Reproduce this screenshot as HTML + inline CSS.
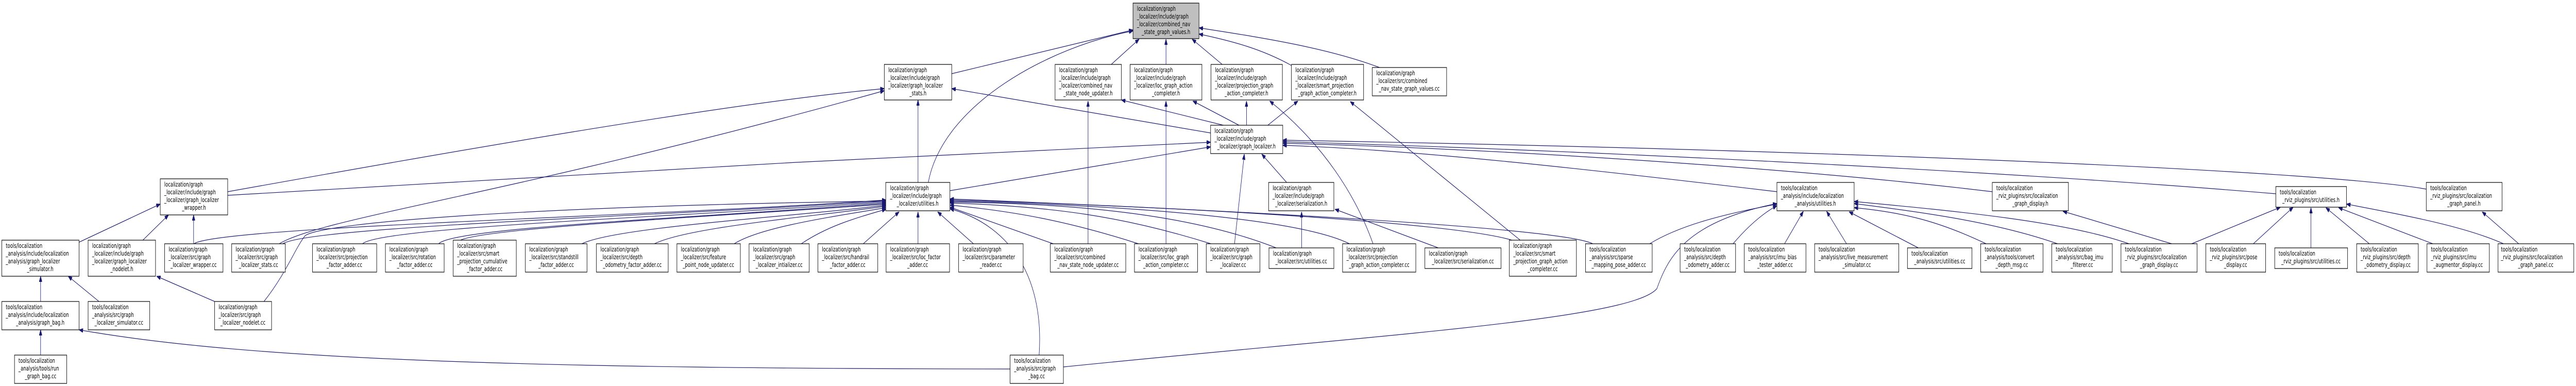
<!DOCTYPE html>
<html><head><meta charset="utf-8">
<style>
html,body{margin:0;padding:0;background:#fff;width:100%;height:100%;overflow:hidden;}
svg{display:block;width:100vw;height:100vh;}
text{font-family:"DejaVu Sans","Liberation Sans",sans-serif;font-size:12px;fill:#000;}
.n{fill:#fff;stroke:#000;stroke-width:1.2;}
.r{fill:#bfbfbf;stroke:#000;stroke-width:1.2;}
.e{fill:none;stroke:#191970;stroke-width:1.2;}
.c{text-anchor:middle;}
</style></head>
<body>
<svg viewBox="0 0 7105 749" preserveAspectRatio="none" xmlns="http://www.w3.org/2000/svg" overflow="hidden">
<defs>
<marker id="a" markerUnits="userSpaceOnUse" markerWidth="11" markerHeight="8" refX="11" refY="4" orient="auto">
<path d="M0,0 L11,4 L0,8 z" fill="#191970" stroke="#191970"/>
</marker>
</defs>

<g class="e" marker-end="url(#a)">
<path d="M2625,143 L3125,58"/>
<path d="M2560,355 C2600,200 2900,90 3125,60"/>
<path d="M3065,125 L3142,76"/>
<path d="M3216,125 L3216,76"/>
<path d="M3371,125 L3288,76"/>
<path d="M3562,127 C3480,95 3400,80 3307,66"/>
<path d="M3805,131 C3650,90 3450,70 3307,54"/>
<path d="M628,372 C1200,300 2000,200 2439,172"/>
<path d="M770,473 C900,420 1400,380 2439,176"/>
<path d="M3339,258 L2625,172"/>
<path d="M2532,355 L2532,194"/>
<path d="M628,379 C1300,350 2500,300 3339,276"/>
<path d="M2620,370 L3339,285"/>
<path d="M3550,355 L3480,299"/>
<path d="M3405,473 L3432,299"/>
<path d="M4901,372 C4400,330 3900,290 3538,282"/>
<path d="M5495,372 C5000,330 4200,290 3538,278"/>
<path d="M6277,376 C5500,330 4300,290 3538,275"/>
<path d="M6692,367 C6400,330 5000,290 3538,272"/>
<path d="M3380,244 L3093,194"/>
<path d="M3420,244 L3290,196"/>
<path d="M3438,244 L3438,196"/>
<path d="M3495,244 L3580,196"/>
<path d="M3001,473 L3001,196"/>
<path d="M3216,473 L3216,196"/>
<path d="M3787,473 C3740,380 3650,280 3502,196"/>
<path d="M4193,466 L3724,197"/>
<path d="M3967,481 L3682,406"/>
<path d="M3590,481 L3590,411"/>
<path d="M535,473 C600,440 1800,420 2444,388"/>
<path d="M780,473 C850,440 1800,420 2444,390"/>
<path d="M1000,473 C1050,440 1900,420 2444,392"/>
<path d="M1210,473 C1250,440 2000,420 2444,394"/>
<path d="M1270,466 C1350,440 2100,415 2444,396"/>
<path d="M1605,473 C1700,440 2200,420 2444,398"/>
<path d="M1805,473 C1900,440 2250,420 2444,400"/>
<path d="M2025,473 C2100,440 2300,420 2444,403"/>
<path d="M2210,473 C2280,440 2350,425 2444,406"/>
<path d="M2381,473 L2480,411"/>
<path d="M728,585 C790,530 815,480 842,457 C900,430 1500,400 2444,390"/>
<path d="M2532,473 L2532,411"/>
<path d="M2685,473 L2586,411"/>
<path d="M2905,473 L2620,402"/>
<path d="M3140,473 C2950,430 2800,410 2620,398"/>
<path d="M3340,473 C3100,420 2900,400 2620,394"/>
<path d="M3520,481 C3300,420 3000,395 2620,392"/>
<path d="M3722,473 C3600,430 3200,400 2620,390"/>
<path d="M4170,466 C4000,430 3200,400 2620,388"/>
<path d="M4393,473 C4300,440 3300,405 2620,386"/>
<path d="M2866,689 C2880,550 2800,440 2620,405"/>
<path d="M4550,473 C4650,430 4800,410 4901,396"/>
<path d="M4780,473 C4820,440 4860,415 4901,399"/>
<path d="M2933,712 C3800,650 4500,620 4570,560 C4600,500 4650,430 4901,395"/>
<path d="M4922,473 L4974,410"/>
<path d="M5093,473 L5038,410"/>
<path d="M5291,481 L5100,411"/>
<path d="M5478,473 C5350,430 5250,412 5114,403"/>
<path d="M5675,473 C5500,430 5300,412 5114,395"/>
<path d="M5872,473 C5700,430 5400,410 5114,391"/>
<path d="M5990,473 L5690,410"/>
<path d="M6045,473 L6290,402"/>
<path d="M6215,473 L6325,402"/>
<path d="M6374,481 L6374,403"/>
<path d="M6535,473 L6415,403"/>
<path d="M6710,473 L6450,403"/>
<path d="M6905,473 C6800,440 6650,420 6472,396"/>
<path d="M6947,473 L6846,411"/>
<path d="M218,470 L442,396"/>
<path d="M394,466 L465,417"/>
<path d="M534,473 L534,417"/>
<path d="M592,585 L432,536"/>
<path d="M112,585 L112,536"/>
<path d="M273,585 L188,536"/>
<path d="M112,689 L112,640"/>
<path d="M2786,716 C1500,715 700,700 218,640"/>
</g>

<rect class="r" x="3125" y="6" width="182" height="69"/>
<text x="3136" y="21">localization/graph</text><text x="3136" y="36">_localizer/include/graph</text><text x="3136" y="51">_localizer/combined_nav</text><text class="c" x="3216" y="66">_state_graph_values.h</text>

<rect class="n" x="2439" y="125" width="186" height="69"/>
<text x="2450" y="140">localization/graph</text><text x="2450" y="155">_localizer/include/graph</text><text x="2450" y="170">_localizer/graph_localizer</text><text class="c" x="2532" y="185">_stats.h</text>

<rect class="n" x="2910" y="125" width="183" height="69"/>
<text x="2921" y="140">localization/graph</text><text x="2921" y="155">_localizer/include/graph</text><text x="2921" y="170">_localizer/combined_nav</text><text class="c" x="3001" y="185">_state_node_updater.h</text>

<rect class="n" x="3117" y="125" width="198" height="69"/>
<text x="3128" y="140">localization/graph</text><text x="3128" y="155">_localizer/include/graph</text><text x="3128" y="170">_localizer/loc_graph_action</text><text class="c" x="3216" y="185">_completer.h</text>

<rect class="n" x="3340" y="125" width="197" height="69"/>
<text x="3351" y="140">localization/graph</text><text x="3351" y="155">_localizer/include/graph</text><text x="3351" y="170">_localizer/projection_graph</text><text class="c" x="3438" y="185">_action_completer.h</text>

<rect class="n" x="3562" y="125" width="199" height="69"/>
<text x="3573" y="140">localization/graph</text><text x="3573" y="155">_localizer/include/graph</text><text x="3573" y="170">_localizer/smart_projection</text><text class="c" x="3661" y="185">_graph_action_completer.h</text>

<rect class="n" x="3785" y="131" width="205" height="55"/>
<text x="3796" y="146">localization/graph</text><text x="3796" y="161">_localizer/src/combined</text><text class="c" x="3887" y="176">_nav_state_graph_values.cc</text>

<rect class="n" x="3339" y="243" width="199" height="55"/>
<text x="3350" y="258">localization/graph</text><text x="3350" y="273">_localizer/include/graph</text><text class="c" x="3438" y="288">_localizer/graph_localizer.h</text>

<rect class="n" x="442" y="347" width="186" height="70"/>
<text x="453" y="362">localization/graph</text><text x="453" y="377">_localizer/include/graph</text><text x="453" y="392">_localizer/graph_localizer</text><text class="c" x="535" y="407">_wrapper.h</text>

<rect class="n" x="2443" y="354" width="177" height="55"/>
<text x="2455" y="369">localization/graph</text><text x="2455" y="384">_localizer/include/graph</text><text class="c" x="2531" y="399">_localizer/utilities.h</text>

<rect class="n" x="3499" y="354" width="180" height="55"/>
<text x="3510" y="369">localization/graph</text><text x="3510" y="384">_localizer/include/graph</text><text class="c" x="3589" y="399">_localizer/serialization.h</text>

<rect class="n" x="4901" y="354" width="213" height="55"/>
<text x="4912" y="369">tools/localization</text><text x="4912" y="384">_analysis/include/localization</text><text class="c" x="5007" y="399">_analysis/utilities.h</text>

<rect class="n" x="5495" y="354" width="210" height="55"/>
<text x="5506" y="369">tools/localization</text><text x="5506" y="384">_rviz_plugins/src/localization</text><text class="c" x="5600" y="399">_graph_display.h</text>

<rect class="n" x="6277" y="362" width="195" height="40"/>
<text x="6288" y="377">tools/localization</text><text class="c" x="6374" y="392">_rviz_plugins/src/utilities.h</text>

<rect class="n" x="6692" y="354" width="209" height="55"/>
<text x="6703" y="369">tools/localization</text><text x="6703" y="384">_rviz_plugins/src/localization</text><text class="c" x="6796" y="399">_graph_panel.h</text>

<rect class="n" x="5" y="466" width="213" height="70"/>
<text x="16" y="481">tools/localization</text><text x="16" y="496">_analysis/include/localization</text><text x="16" y="511">_analysis/graph_localizer</text><text class="c" x="111" y="526">_simulator.h</text>

<rect class="n" x="243" y="466" width="186" height="70"/>
<text x="254" y="481">localization/graph</text><text x="254" y="496">_localizer/include/graph</text><text x="254" y="511">_localizer/graph_localizer</text><text class="c" x="336" y="526">_nodelet.h</text>

<rect class="n" x="454" y="473" width="161" height="55"/>
<text x="465" y="488">localization/graph</text><text x="465" y="503">_localizer/src/graph</text><text class="c" x="534" y="518">_localizer_wrapper.cc</text>

<rect class="n" x="639" y="473" width="148" height="55"/>
<text x="650" y="488">localization/graph</text><text x="650" y="503">_localizer/src/graph</text><text class="c" x="713" y="518">_localizer_stats.cc</text>

<rect class="n" x="862" y="473" width="177" height="55"/>
<text x="873" y="488">localization/graph</text><text x="873" y="503">_localizer/src/projection</text><text class="c" x="950" y="518">_factor_adder.cc</text>

<rect class="n" x="1063" y="473" width="162" height="55"/>
<text x="1074" y="488">localization/graph</text><text x="1074" y="503">_localizer/src/rotation</text><text class="c" x="1144" y="518">_factor_adder.cc</text>

<rect class="n" x="1250" y="466" width="174" height="70"/>
<text x="1261" y="481">localization/graph</text><text x="1261" y="496">_localizer/src/smart</text><text x="1261" y="511">_projection_cumulative</text><text class="c" x="1337" y="526">_factor_adder.cc</text>

<rect class="n" x="1449" y="473" width="170" height="55"/>
<text x="1460" y="488">localization/graph</text><text x="1460" y="503">_localizer/src/standstill</text><text class="c" x="1534" y="518">_factor_adder.cc</text>

<rect class="n" x="1645" y="473" width="198" height="55"/>
<text x="1656" y="488">localization/graph</text><text x="1656" y="503">_localizer/src/depth</text><text class="c" x="1744" y="518">_odometry_factor_adder.cc</text>

<rect class="n" x="1867" y="473" width="175" height="55"/>
<text x="1878" y="488">localization/graph</text><text x="1878" y="503">_localizer/src/feature</text><text class="c" x="1954" y="518">_point_node_updater.cc</text>

<rect class="n" x="2066" y="473" width="166" height="55"/>
<text x="2077" y="488">localization/graph</text><text x="2077" y="503">_localizer/src/graph</text><text class="c" x="2149" y="518">_localizer_intializer.cc</text>

<rect class="n" x="2256" y="473" width="165" height="55"/>
<text x="2267" y="488">localization/graph</text><text x="2267" y="503">_localizer/src/handrail</text><text class="c" x="2338" y="518">_factor_adder.cc</text>

<rect class="n" x="2444" y="473" width="175" height="55"/>
<text x="2455" y="488">localization/graph</text><text x="2455" y="503">_localizer/src/loc_factor</text><text class="c" x="2531" y="518">_adder.cc</text>

<rect class="n" x="2644" y="473" width="178" height="55"/>
<text x="2655" y="488">localization/graph</text><text x="2655" y="503">_localizer/src/parameter</text><text class="c" x="2733" y="518">_reader.cc</text>

<rect class="n" x="2897" y="473" width="208" height="55"/>
<text x="2908" y="488">localization/graph</text><text x="2908" y="503">_localizer/src/combined</text><text class="c" x="3001" y="518">_nav_state_node_updater.cc</text>

<rect class="n" x="3129" y="473" width="174" height="55"/>
<text x="3140" y="488">localization/graph</text><text x="3140" y="503">_localizer/src/loc_graph</text><text class="c" x="3216" y="518">_action_completer.cc</text>

<rect class="n" x="3327" y="473" width="148" height="55"/>
<text x="3338" y="488">localization/graph</text><text x="3338" y="503">_localizer/src/graph</text><text class="c" x="3401" y="518">_localizer.cc</text>

<rect class="n" x="3500" y="481" width="179" height="40"/>
<text x="3511" y="496">localization/graph</text><text class="c" x="3589" y="511">_localizer/src/utilities.cc</text>

<rect class="n" x="3703" y="473" width="202" height="55"/>
<text x="3714" y="488">localization/graph</text><text x="3714" y="503">_localizer/src/projection</text><text class="c" x="3804" y="518">_graph_action_completer.cc</text>

<rect class="n" x="3930" y="481" width="210" height="40"/>
<text x="3941" y="496">localization/graph</text><text class="c" x="4035" y="511">_localizer/src/serialization.cc</text>

<rect class="n" x="4163" y="466" width="185" height="70"/>
<text x="4174" y="481">localization/graph</text><text x="4174" y="496">_localizer/src/smart</text><text x="4174" y="511">_projection_graph_action</text><text class="c" x="4255" y="526">_completer.cc</text>

<rect class="n" x="4373" y="473" width="184" height="55"/>
<text x="4384" y="488">tools/localization</text><text x="4384" y="503">_analysis/src/sparse</text><text class="c" x="4465" y="518">_mapping_pose_adder.cc</text>

<rect class="n" x="4634" y="473" width="153" height="55"/>
<text x="4645" y="488">tools/localization</text><text x="4645" y="503">_analysis/src/depth</text><text class="c" x="4710" y="518">_odometry_adder.cc</text>

<rect class="n" x="4811" y="473" width="170" height="55"/>
<text x="4822" y="488">tools/localization</text><text x="4822" y="503">_analysis/src/imu_bias</text><text class="c" x="4896" y="518">_tester_adder.cc</text>

<rect class="n" x="5005" y="473" width="232" height="55"/>
<text x="5016" y="488">tools/localization</text><text x="5016" y="503">_analysis/src/live_measurement</text><text class="c" x="5121" y="518">_simulator.cc</text>

<rect class="n" x="5261" y="481" width="178" height="40"/>
<text x="5272" y="496">tools/localization</text><text class="c" x="5350" y="511">_analysis/src/utilities.cc</text>

<rect class="n" x="5463" y="473" width="172" height="55"/>
<text x="5474" y="488">tools/localization</text><text x="5474" y="503">_analysis/tools/convert</text><text class="c" x="5549" y="518">_depth_msg.cc</text>

<rect class="n" x="5659" y="473" width="167" height="55"/>
<text x="5670" y="488">tools/localization</text><text x="5670" y="503">_analysis/src/bag_imu</text><text class="c" x="5742" y="518">_filterer.cc</text>

<rect class="n" x="5850" y="473" width="210" height="55"/>
<text x="5861" y="488">tools/localization</text><text x="5861" y="503">_rviz_plugins/src/localization</text><text class="c" x="5955" y="518">_graph_display.cc</text>

<rect class="n" x="6084" y="473" width="165" height="55"/>
<text x="6095" y="488">tools/localization</text><text x="6095" y="503">_rviz_plugins/src/pose</text><text class="c" x="6166" y="518">_display.cc</text>

<rect class="n" x="6274" y="481" width="201" height="40"/>
<text x="6285" y="496">tools/localization</text><text class="c" x="6374" y="511">_rviz_plugins/src/utilities.cc</text>

<rect class="n" x="6500" y="473" width="170" height="55"/>
<text x="6511" y="488">tools/localization</text><text x="6511" y="503">_rviz_plugins/src/depth</text><text class="c" x="6585" y="518">_odometry_display.cc</text>

<rect class="n" x="6694" y="473" width="172" height="55"/>
<text x="6705" y="488">tools/localization</text><text x="6705" y="503">_rviz_plugins/src/imu</text><text class="c" x="6780" y="518">_augmentor_display.cc</text>

<rect class="n" x="6890" y="473" width="209" height="55"/>
<text x="6898" y="488">tools/localization</text><text x="6898" y="503">_rviz_plugins/src/localization</text><text class="c" x="6994" y="518">_graph_panel.cc</text>

<rect class="n" x="5" y="585" width="213" height="55"/>
<text x="16" y="600">tools/localization</text><text x="16" y="615">_analysis/include/localization</text><text class="c" x="111" y="630">_analysis/graph_bag.h</text>

<rect class="n" x="243" y="585" width="170" height="55"/>
<text x="254" y="600">tools/localization</text><text x="254" y="615">_analysis/src/graph</text><text class="c" x="328" y="630">_localizer_simulator.cc</text>

<rect class="n" x="592" y="585" width="157" height="55"/>
<text x="603" y="600">localization/graph</text><text x="603" y="615">_localizer/src/graph</text><text class="c" x="670" y="630">_localizer_nodelet.cc</text>

<rect class="n" x="40" y="689" width="144" height="55"/>
<text x="51" y="704">tools/localization</text><text x="51" y="719">_analysis/tools/run</text><text class="c" x="112" y="734">_graph_bag.cc</text>

<rect class="n" x="2786" y="689" width="147" height="55"/>
<text x="2797" y="704">tools/localization</text><text x="2797" y="719">_analysis/src/graph</text><text class="c" x="2859" y="734">_bag.cc</text>
</svg>
</body></html>
